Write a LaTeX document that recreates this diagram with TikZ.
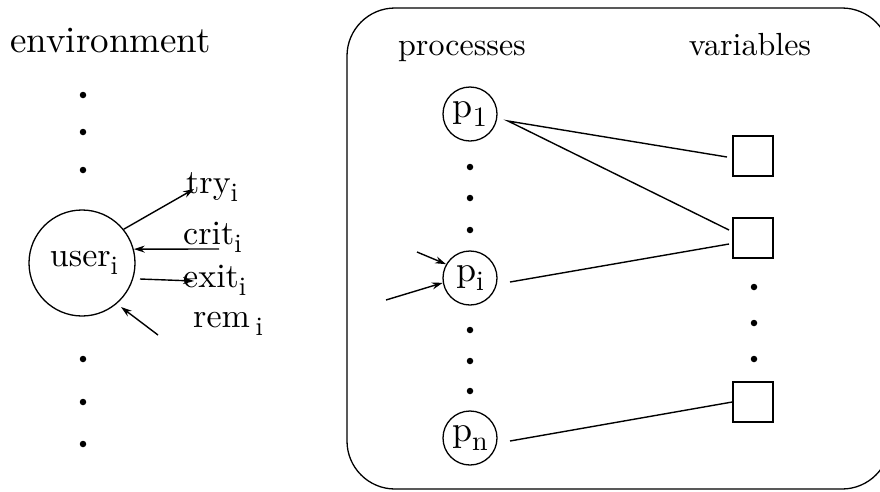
\documentclass[tikz,border=0pt]{standalone}
\usepackage{fontspec}
\setmainfont{lmroman10-regular}[Extension=.otf, BoldFont=lmroman10-bold]
\usetikzlibrary{arrows.meta}
% lowered small index after a word
\newcommand{\idx}[1]{\raisebox{-0.24em}{\fontsize{0.78\dimexpr\fontdimen6\font\relax}{1em}\selectfont #1}}
\tikzset{
  ln/.style={line width=1.4pt},
  proc/.style={circle, draw, line width=1.3pt, minimum size=54pt, inner sep=0pt, font=\fontsize{36}{38}\selectfont},
  usr/.style={circle, draw, line width=1.3pt, minimum size=106pt, inner sep=0pt, font=\fontsize{34}{38}\selectfont},
  var/.style={rectangle, draw, line width=1.6pt, minimum size=40pt, inner sep=0pt},
  lbl/.style={anchor=base west, inner sep=0pt, font=\fontsize{34}{38}\selectfont},
  hdr/.style={anchor=base, inner sep=0pt, font=\fontsize{32}{34}\selectfont},
  dotmark/.style={circle, fill, inner sep=0pt, minimum size=6.5pt},
  arr/.style={ln, -{Stealth[length=11pt,width=7pt]}}
}
\begin{document}
\begin{tikzpicture}[x=1pt,y=-1pt]
\useasboundingbox (0,0) rectangle (880,491);

% environment side
\node[anchor=base west, inner sep=0pt, font=\fontsize{37}{42}\selectfont] (env) at (10,52) {environment};
\node[dotmark] (ed1) at (83,95) {};
\node[dotmark] (ed2) at (83,132) {};
\node[dotmark] (ed3) at (83,170) {};
\node[dotmark] (ed4) at (83,359) {};
\node[dotmark] (ed5) at (83,402) {};
\node[dotmark] (ed6) at (83,444) {};

\node[usr] (user) at (82,263) {\hspace{4pt}user\idx{i}};

\node[lbl] (try) at (186,193) {try\idx{i}};
\node[lbl] (crit) at (183,244) {crit\idx{i}};
\node[lbl] (exit) at (183,287) {exit\idx{i}};
\node[lbl] (rem) at (193,327) {rem\,\idx{i}};

\coordinate (tryend) at (194,189);
\coordinate (critstart) at (219,249);
\coordinate (exitstart) at (140,279);
\coordinate (exitend) at (194,281);
\coordinate (remstart) at (158,335);
\coordinate (remend) at (121,307);

\draw[arr] (user.39) -- (tryend);
\draw[arr] (critstart) -- (user.15);
\draw[arr] (exitstart) -- (exitend);
\draw[arr] (remstart) -- (remend);

% system box
\draw[line width=1.3pt, rounded corners=48pt] (347,8) rectangle (890,489);
\node[hdr] (phdr) at (462,55) {processes};
\node[hdr] (vhdr) at (750,55) {variables};

\node[proc] (p1) at (470,114) {p\idx{1}};
\node[proc] (pi) at (470,278) {p\idx{i}};
\node[proc] (pn) at (470,438) {p\idx{n}};

\node[dotmark] (pd1) at (470,167) {};
\node[dotmark] (pd2) at (470,198) {};
\node[dotmark] (pd3) at (470,230) {};
\node[dotmark] (pd4) at (470,330) {};
\node[dotmark] (pd5) at (470,361) {};
\node[dotmark] (pd6) at (470,391) {};

\node[var] (v1) at (753,156) {};
\node[var] (v2) at (753,238) {};
\node[var] (v3) at (753,402) {};

\node[dotmark] (vd1) at (754,287) {};
\node[dotmark] (vd2) at (754,323) {};
\node[dotmark] (vd3) at (754,359) {};

% shared-variable links
\coordinate (p1out) at (508,121);
\coordinate (piout) at (510,282);
\coordinate (pnout) at (510,441);
\coordinate (v1in) at (727,157);
\coordinate (v2ina) at (729,230);
\coordinate (v2inb) at (729,244);
\draw[ln] (v1in) -- (p1out) -- (v2ina);
\draw[ln] (piout) -- (v2inb);
\draw[ln] (pnout) -- (v3.west);

% inputs to p_i
\coordinate (in1) at (417,252);
\coordinate (in2) at (386,300);
\draw[arr] (in1) -- (pi.150);
\draw[arr] (in2) -- (pi.190);
\end{tikzpicture}
\end{document}
